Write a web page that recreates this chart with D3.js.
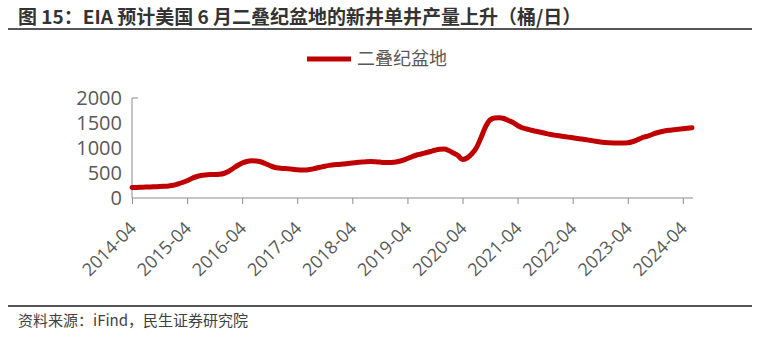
<!DOCTYPE html>
<html><head><meta charset="utf-8">
<script src="https://cdn.jsdelivr.net/npm/d3@7"></script>
<style>body{margin:0;background:#fff}</style></head>
<body><svg id="c" width="775" height="340"></svg>
<script>
const titleText = "图 15：EIA 预计美国 6 月二叠纪盆地的新井单井产量上升（桶/日）";
const sourceText = "资料来源：iFind，民生证券研究院";
const seriesName = "二叠纪盆地";
const startYear = 2014, startMonth = 4;
// monthly values, 2014-04 .. 2024-06 (barrels/day)
const values = [
 210,212,215,218,222,226,230,235,242,255,280,310,
 345,390,425,450,462,468,470,475,490,530,590,650,
 700,730,745,742,725,690,650,615,598,590,585,575,
 565,560,562,575,595,615,635,652,665,672,680,690,
 700,710,720,726,728,725,718,712,710,715,730,755,
 790,825,860,880,905,930,955,975,978,950,900,850,
 770,800,880,1000,1200,1420,1560,1600,1605,1590,1550,1510,
 1450,1405,1380,1355,1335,1315,1295,1275,1258,1245,1232,1218,
 1205,1192,1180,1165,1150,1135,1120,1110,1105,1102,1100,1100,
 1105,1125,1160,1200,1230,1260,1295,1320,1340,1355,1365,1375,
 1385,1395,1405
];
const categories = values.map((v, i) => {
  const t = startMonth - 1 + i;
  return (startYear + Math.floor(t / 12)) + "-" + String(t % 12 + 1).padStart(2, "0");
});
const xTickLabels = ["2014-04","2015-04","2016-04","2017-04","2018-04","2019-04","2020-04","2021-04","2022-04","2023-04","2024-04"];
const yTicks = [0, 500, 1000, 1500, 2000];

const svg = d3.select("#c");
const cjk = "'Noto Sans CJK SC', 'Noto Sans', sans-serif";
const axisFont = "'Open Sans', 'Noto Sans', sans-serif";

// title
svg.append("text").attr("x", 18).attr("y", 24)
  .attr("font-family", cjk).attr("font-weight", "bold").attr("font-size", 19)
  .attr("fill", "#333").text(titleText);
svg.append("line").attr("x1", 8).attr("x2", 752).attr("y1", 29).attr("y2", 29)
  .attr("stroke", "#555").attr("stroke-width", 2);

// source
svg.append("line").attr("x1", 8).attr("x2", 752).attr("y1", 306).attr("y2", 306)
  .attr("stroke", "#555").attr("stroke-width", 2);
svg.append("text").attr("x", 18).attr("y", 326)
  .attr("font-family", cjk).attr("font-size", 15)
  .attr("fill", "#404040").text(sourceText);

// scales
const x = d3.scalePoint().domain(categories).range([132, 692]);
const y = d3.scaleLinear().domain([0, 2000]).range([198, 98]);

// y axis
const gy = svg.append("g").attr("transform", "translate(132,0)");
gy.append("line").attr("x1", 0).attr("x2", 0).attr("y1", y(2000)).attr("y2", y(0)).attr("stroke", "#8c8c8c");
gy.append("line").attr("x1", 0).attr("x2", 6).attr("y1", y(2000)).attr("y2", y(2000)).attr("stroke", "#8c8c8c");
gy.selectAll("text.yt").data(yTicks).join("text").attr("class", "yt")
  .attr("x", -10).attr("y", d => y(d)).attr("dy", "0.36em")
  .attr("text-anchor", "end").attr("font-family", axisFont).attr("font-size", 20)
  .attr("fill", "#595959").text(d => d);

// x axis
const xAxis = d3.axisBottom(x).tickValues(xTickLabels).tickSize(6).tickFormat("");
const gx = svg.append("g").attr("transform", `translate(0,${y(0)})`).call(xAxis);
gx.select(".domain").attr("stroke", "#8c8c8c").attr("d", `M132,0H693`);
gx.selectAll(".tick line").attr("stroke", "#8c8c8c");
gx.selectAll("text.xl").data(xTickLabels).join("text").attr("class", "xl")
  .attr("transform", d => `translate(${x(d) + 1},${27}) rotate(-45)`)
  .attr("text-anchor", "end").attr("dy", "0.35em")
  .attr("font-family", axisFont).attr("font-size", 18).attr("fill", "#595959").text(d => d);

// line
const line = d3.line().x((d, i) => x(categories[i])).y(d => y(d)).curve(d3.curveMonotoneX);
svg.append("path").datum(values).attr("d", line)
  .attr("fill", "none").attr("stroke", "#C00000").attr("stroke-width", 5)
  .attr("stroke-linejoin", "round").attr("stroke-linecap", "round");

// legend
svg.append("line").attr("x1", 307).attr("x2", 351).attr("y1", 59).attr("y2", 59)
  .attr("stroke", "#C00000").attr("stroke-width", 5);
svg.append("text").attr("x", 357).attr("y", 59).attr("dy", "0.35em")
  .attr("font-family", cjk).attr("font-size", 18).attr("fill", "#595959").text(seriesName);
</script></body></html>
